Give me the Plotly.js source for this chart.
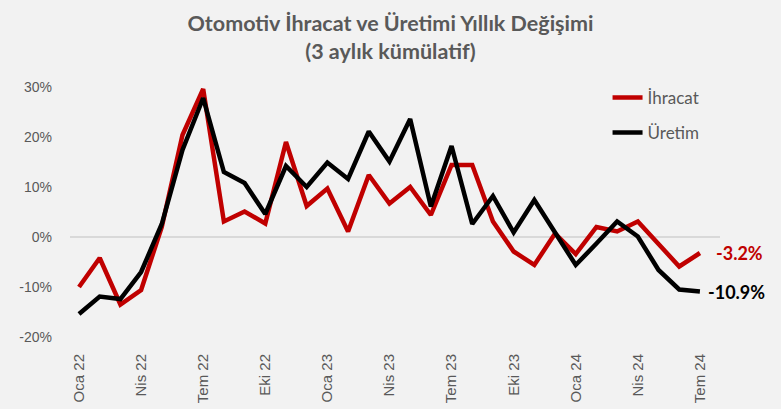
<!DOCTYPE html>
<html>
<head>
<meta charset="utf-8">
<script src="https://cdn.plot.ly/plotly-3.0.1.min.js"></script>
<style>html,body{margin:0;padding:0;background:#f2f2f2;}#chart{width:781px;height:409px;}</style>
</head>
<body>
<div id="chart"></div>
<script>
const months = ["Oca 22","Şub 22","Mar 22","Nis 22","May 22","Haz 22","Tem 22","Ağu 22","Eyl 22","Eki 22","Kas 22","Ara 22",
"Oca 23","Şub 23","Mar 23","Nis 23","May 23","Haz 23","Tem 23","Ağu 23","Eyl 23","Eki 23","Kas 23","Ara 23",
"Oca 24","Şub 24","Mar 24","Nis 24","May 24","Haz 24","Tem 24"];
const tickLabels = ["Oca 22","Nis 22","Tem 22","Eki 22","Oca 23","Nis 23","Tem 23","Eki 23","Oca 24","Nis 24","Tem 24"];
const ihracat = [-10, -4.2, -13.5, -10.6, 2, 20.4, 29.6, 3.1, 5.1, 2.7, 19, 6.2, 9.7, 1.1, 12.4, 6.7, 10, 4.4, 14.4, 14.4, 3.1, -2.9, -5.6, 0.7, -3.4, 2, 1.1, 3.1, -1.4, -5.9, -3.2];
const uretim = [-15.4, -11.9, -12.4, -7, 2.6, 17.4, 27.8, 13, 10.8, 4.6, 14.2, 10, 14.9, 11.6, 21.1, 15.1, 23.6, 6.1, 18.2, 2.6, 8.2, 0.9, 7.4, 1, -5.6, -1.3, 3.1, 0.1, -6.6, -10.5, -10.9];
const seriesNames = ["İhracat", "Üretim"];
const yTicks = [-20, -10, 0, 10, 20, 30];

const gray = "#595959";
const traces = [
  {x: months, y: ihracat, name: seriesNames[0], type: "scatter", mode: "lines", legendgroup: "a",
   line: {color: "#c00000", width: 4.5}},
  {x: months, y: uretim, name: seriesNames[1], type: "scatter", mode: "lines", legendgroup: "b",
   line: {color: "#000000", width: 4.5}}
];
const last = months.length - 1;
const layout = {
  width: 781, height: 409,
  paper_bgcolor: "#f2f2f2", plot_bgcolor: "#f2f2f2",
  margin: {l: 70, r: 61, t: 82, b: 67},
  title: {text: "<b>Otomotiv İhracat ve Üretimi Yıllık Değişimi<br>(3 aylık kümülatif)</b>",
          x: 0.5, xref: "container", y: 1, yref: "paper", yanchor: "bottom", pad: {b: 51},
          font: {family: "Lato, 'Open Sans', sans-serif", size: 21.5, color: gray}},
  xaxis: {type: "category", range: [-0.435, 30.97], tickmode: "array", tickvals: tickLabels, ticktext: tickLabels,
          tickangle: -90, showgrid: false, zeroline: false, showline: false, ticks: "",
          ticklabelstandoff: 8,
          tickfont: {family: "'Liberation Sans', Arial, sans-serif", size: 15, color: gray}},
  yaxis: {range: [-21, 31], tickvals: yTicks, ticktext: yTicks.map(v => v + "%"), showgrid: false,
          zeroline: true, zerolinecolor: "#d9d9d9", zerolinewidth: 2, showline: false, ticks: "",
          ticklabelstandoff: 17,
          tickfont: {family: "'Liberation Sans', Arial, sans-serif", size: 14, color: gray}},
  showlegend: true,
  legend: {x: 0.827, y: 1.008, xanchor: "left", yanchor: "top", bgcolor: "rgba(0,0,0,0)",
           traceorder: "grouped", tracegroupgap: 10,
           font: {family: "Lato, 'Open Sans', sans-serif", size: 17, color: gray}},
  annotations: [
    {x: months[last], y: ihracat[last], xref: "x", yref: "y", text: "<b>" + ihracat[last].toFixed(1) + "%</b>",
     showarrow: false, xanchor: "left", xshift: 14,
     font: {family: "Lato, 'Open Sans', sans-serif", size: 18, color: "#c00000"}},
    {x: months[last], y: uretim[last], xref: "x", yref: "y", text: "<b>" + uretim[last].toFixed(1) + "%</b>",
     showarrow: false, xanchor: "left", xshift: 6,
     font: {family: "Lato, 'Open Sans', sans-serif", size: 18, color: "#000000"}}
  ]
};
Plotly.newPlot("chart", traces, layout, {displayModeBar: false, staticPlot: true});
</script>
</body>
</html>
